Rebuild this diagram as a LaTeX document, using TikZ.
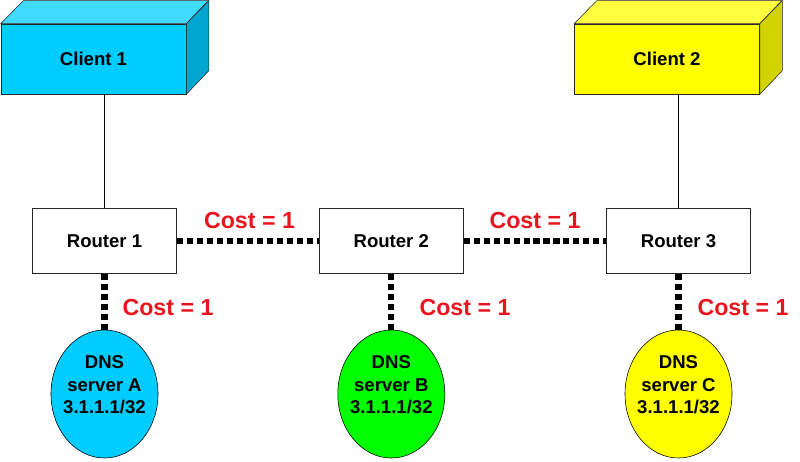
\documentclass[tikz,border=0pt]{standalone}
\usepackage{fontspec}
\setmainfont{Liberation Sans}
\usetikzlibrary{shapes.geometric}

\definecolor{skyfront}{HTML}{00CCFF}
\definecolor{skytop}{HTML}{40DAFF}
\definecolor{skyside}{HTML}{00A6D0}
\definecolor{lemonfront}{HTML}{FFFF00}
\definecolor{lemontop}{HTML}{FFFF40}
\definecolor{lemonside}{HTML}{D2D200}
\definecolor{limefill}{HTML}{00FF00}
\definecolor{costred}{HTML}{E8141E}

\tikzset{
  box/.style={draw=black!85, thin, minimum width=4.625cm, minimum height=1.75cm,
    font=\fontsize{13.2}{16}\selectfont\bfseries},
  router/.style={draw=black!85, thin, fill=white, minimum width=3.6cm, minimum height=1.625cm,
    font=\fontsize{13.2}{16}\selectfont\bfseries},
  dns/.style={ellipse, draw=black, thin, minimum width=2.675cm, minimum height=3.2cm, inner sep=0pt},
  dnstext/.style={align=center, inner sep=0pt, font=\fontsize{13.2}{16}\selectfont\bfseries},
  cost/.style={text=costred, font=\fontsize{16.5}{20}\selectfont\bfseries},
  wire/.style={black, thin},
  hop/.style={black, line width=4.3pt, dash pattern=on 4.3pt off 2.8pt}
}

\begin{document}
\begin{tikzpicture}[x=0.025cm, y=-0.025cm]

\fill[white] (0,0) rectangle (800,461);
\useasboundingbox (0,0) rectangle (800,461);

% clients
\node (client1) at (93.5,59) [box, fill=skyfront] {Client 1};
\draw[thin, draw=black!85, fill=skytop] (client1.north west) -- ++(22.5,-23) -- ++(185,0) -- (client1.north east) -- cycle;
\draw[thin, draw=black!85, fill=skyside] (client1.north east) -- ++(22.5,-23) -- ++(0,70) -- (client1.south east) -- cycle;

\node (client2) at (667,59) [box, fill=lemonfront] {Client 2};
\draw[thin, draw=black!85, fill=lemontop] (client2.north west) -- ++(22.5,-23) -- ++(185,0) -- (client2.north east) -- cycle;
\draw[thin, draw=black!85, fill=lemonside] (client2.north east) -- ++(22.5,-23) -- ++(0,70) -- (client2.south east) -- cycle;

% routers
\node (router1) at (104.5,241) [router] {Router 1};
\node (router2) at (391.3,241) [router] {Router 2};
\node (router3) at (678.5,241) [router] {Router 3};

% dns servers
\node (dnsA) at (104.5,394) [dns, fill=skyfront] {};
\node (dnsB) at (391.3,394) [dns, fill=limefill] {};
\node (dnsC) at (678.5,394) [dns, fill=lemonfront] {};
\node (dnsAtext) at (104.5,385) [dnstext] {DNS\\server A\\3.1.1.1/32};
\node (dnsBtext) at (391.3,385) [dnstext] {DNS\\server B\\3.1.1.1/32};
\node (dnsCtext) at (678.5,385) [dnstext] {DNS\\server C\\3.1.1.1/32};

% links
\draw[wire] (client1.south -| router1.north) -- (router1.north);
\draw[wire] (client2.south -| router3.north) -- (router3.north);

\draw[hop] (router1.east) -- (router2.west);
\draw[hop] (router2.east) -- (router3.west);
\draw[hop] (router1.south) -- (dnsA.north);
\draw[hop] (router2.south) -- (dnsB.north);
\draw[hop] (router3.south) -- (dnsC.north);

% costs
\node (costAB) at (249.5,221) [cost] {Cost = 1};
\node (costBC) at (535,221) [cost] {Cost = 1};
\node (costA) at (168,308) [cost] {Cost = 1};
\node (costB) at (465,308) [cost] {Cost = 1};
\node (costC) at (743,308) [cost] {Cost = 1};

\end{tikzpicture}
\end{document}
